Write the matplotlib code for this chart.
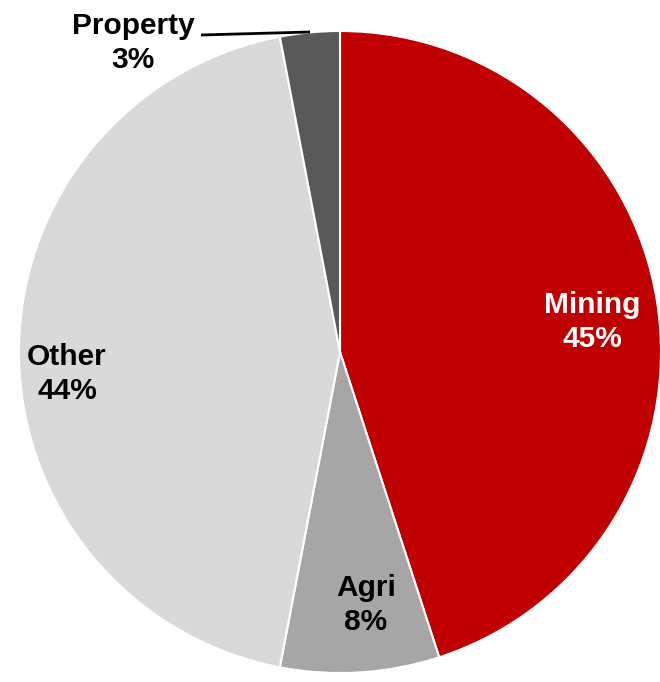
import matplotlib.pyplot as plt

plt.rcParams["font.family"] = ["Liberation Sans", "DejaVu Sans"]

labels = ["Mining", "Agri", "Other", "Property"]
shares = [45, 8, 44, 3]
colors = ["#C00000", "#A6A6A6", "#D9D9D9", "#595959"]
text_colors = ["white", "black", "black", "black"]

W, H = 660, 682
fig = plt.figure(figsize=(W / 100, H / 100), dpi=100)
ax = fig.add_axes([0, 0, 1, 1])

cx, cy, r = 340, 330, 321
ax.pie(shares, colors=colors, startangle=90, counterclock=False,
       center=(cx, cy), radius=r, frame=True,
       wedgeprops=dict(edgecolor="white", linewidth=1.5))
ax.set_xlim(0, W)
ax.set_ylim(0, H)
ax.set_aspect("equal")
ax.axis("off")

# label positions (pixels from top-left)
pos = {"Mining": (592, 322), "Agri": (366, 605), "Other": (67, 374), "Property": (133, 43)}
for lab, s, tc in zip(labels, shares, text_colors):
    px, py = pos[lab]
    ax.text(px, H - py, f"{lab}\n{s}%", ha="center", va="center", color=tc,
            fontsize=21.5, fontweight="bold", linespacing=1.3)

# leader line for Property
ax.plot([201, 310], [H - 35, H - 32], color="black", lw=2, solid_capstyle="butt")

fig.savefig("out.png", dpi=100, facecolor="white")
